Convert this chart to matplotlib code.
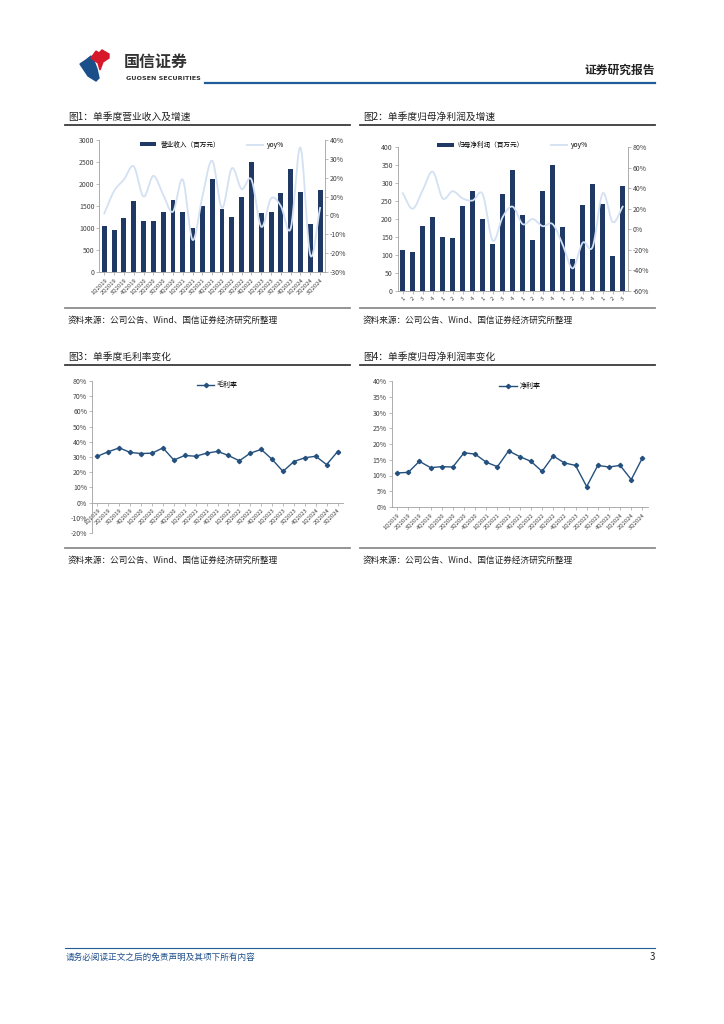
import numpy as np
import matplotlib
matplotlib.use("Agg")
import matplotlib.pyplot as plt
from matplotlib.patches import Polygon
from matplotlib.lines import Line2D

plt.rcParams['font.family'] = ['Noto Sans CJK SC', 'DejaVu Sans']
plt.rcParams['axes.unicode_minus'] = False

# ---- data ----
quarters = ["1Q2019", "2Q2019", "3Q2019", "4Q2019", "1Q2020", "2Q2020", "3Q2020", "4Q2020",
            "1Q2021", "2Q2021", "3Q2021", "4Q2021", "1Q2022", "2Q2022", "3Q2022", "4Q2022",
            "1Q2023", "2Q2023", "3Q2023", "4Q2023", "1Q2024", "2Q2024", "3Q2024"]
q_short = ["1", "2", "3", "4"] * 5 + ["1", "2", "3"]

revenue = [1050, 950, 1230, 1610, 1150, 1150, 1360, 1640, 1370, 1000, 1490, 2110,
           1430, 1250, 1700, 2500, 1340, 1360, 1790, 2330, 1820, 1080, 1860]
revenue_yoy = [1, 13, 19, 26, 10, 21, 11, 2, 19, -13, 10, 29,
               4, 25, 14, 19, -6, 9, 5, -7, 36, -21, 4]

profit = [115, 107, 180, 205, 149, 146, 235, 277, 199, 131, 269, 336,
          210, 143, 277, 350, 179, 89, 240, 296, 241, 98, 291]
profit_yoy = [35, 20, 38, 56, 30, 37, 30, 28, 34, -11, 12, 22,
              5, 10, 3, 5, -15, -38, -13, -17, 35, 7, 22]

gross_margin = [30.5, 33.5, 36.0, 33.0, 32.3, 32.5, 36.0, 28.0, 31.0, 30.5, 32.5, 33.7,
                31.0, 27.5, 32.5, 35.0, 28.5, 20.5, 27.0, 29.5, 30.5, 25.0, 33.5]
net_margin = [10.8, 11.0, 14.5, 12.5, 12.8, 12.7, 17.2, 16.8, 14.2, 12.8, 17.8, 16.0,
              14.5, 11.3, 16.2, 14.0, 13.2, 6.5, 13.2, 12.7, 13.2, 8.7, 15.6]

W, H = 724, 1024
NAVY = "#1F3864"
LIGHT = "#D3E1F2"
LINE = "#24507E"
GRAY = "#A0A0A0"
TXT = "#404040"


def rect(l, t, r, b):
    return [l / W, 1 - b / H, (r - l) / W, (b - t) / H]


def fx(x):
    return x / W


def fy(y):
    return 1 - y / H


def smooth(x, y, n=20):
    # catmull-rom style curve through the points (like excel smoothed line)
    x = np.asarray(x, float)
    y = np.asarray(y, float)
    px = np.concatenate([[2 * x[0] - x[1]], x, [2 * x[-1] - x[-2]]])
    py = np.concatenate([[2 * y[0] - y[1]], y, [2 * y[-1] - y[-2]]])
    xs, ys = [], []
    t = np.linspace(0, 1, n, endpoint=False)
    for i in range(1, len(px) - 2):
        for arr, out in ((px, xs), (py, ys)):
            p0, p1, p2, p3 = arr[i - 1], arr[i], arr[i + 1], arr[i + 2]
            out.extend(0.5 * (2 * p1 + (-p0 + p2) * t + (2 * p0 - 5 * p1 + 4 * p2 - p3) * t ** 2
                              + (-p0 + 3 * p1 - 3 * p2 + p3) * t ** 3))
    xs.append(x[-1])
    ys.append(y[-1])
    return np.array(xs), np.array(ys)


def style_axis(ax, fs=5):
    for s in ["top", "right"]:
        ax.spines[s].set_visible(False)
    for s in ["left", "bottom"]:
        ax.spines[s].set_color(GRAY)
        ax.spines[s].set_linewidth(0.6)
    ax.tick_params(axis="both", labelsize=fs, colors=TXT, length=2, width=0.5, pad=1.5)
    ax.tick_params(axis="both", color=GRAY)


fig = plt.figure(figsize=(W / 100, H / 100), dpi=100)

# ---- header ----
fig.patches.append(Polygon([(fx(a), fy(b)) for a, b in
                            [(80, 64), (86, 60), (91, 56), (94, 61), (97, 69), (99, 78),
                             (96, 81), (88, 76)]],
                           closed=True, color="#1B4F8A", transform=fig.transFigure))
fig.patches.append(Polygon([(fx(a), fy(b)) for a, b in
                            [(91, 58), (96, 51), (99, 53), (102, 50), (109, 54), (109, 58),
                             (103, 62), (100, 70), (98, 63)]],
                           closed=True, color="#D7182A", transform=fig.transFigure))
fig.text(fx(124), fy(62), "国信证券", fontsize=11.5, fontweight="bold", color="#333333",
         va="center", ha="left")
fig.text(fx(126), fy(78), "GUOSEN SECURITIES", fontsize=4.6, color="#333333", va="center",
         ha="left", family="DejaVu Sans", fontweight="bold")
fig.text(fx(655), fy(70), "证券研究报告", fontsize=8.5, fontweight="bold", color="#222222",
         ha="right", va="center")
fig.add_artist(Line2D([fx(205), fx(655)], [fy(83), fy(83)], color="#1F5C99", lw=1.6))

# ---- titles, rules, sources ----
for x0, x1, y_title, y_rule, y_bot, y_src, title in [
        (65, 350, 117, 125, 308, 320, "图1：单季度营业收入及增速"),
        (360, 655, 117, 125, 308, 320, "图2：单季度归母净利润及增速"),
        (65, 350, 357, 365, 548, 560, "图3：单季度毛利率变化"),
        (360, 655, 357, 365, 548, 560, "图4：单季度归母净利润率变化")]:
    fig.text(fx(x0 + 3), fy(y_title), title, fontsize=7, color="#222222", va="center")
    fig.add_artist(Line2D([fx(x0), fx(x1)], [fy(y_rule), fy(y_rule)], color="#3A3A3A", lw=1.3))
    fig.add_artist(Line2D([fx(x0), fx(x1)], [fy(y_bot), fy(y_bot)], color="#8C8C8C", lw=1.3))
    fig.text(fx(x0 + 3), fy(y_src), "资料来源：公司公告、Wind、国信证券经济研究所整理",
             fontsize=6.2, color="#222222", va="center")

# ---- footer ----
fig.add_artist(Line2D([fx(65), fx(655)], [fy(948), fy(948)], color="#1F5C99", lw=0.8))
fig.text(fx(66), fy(957), "请务必阅读正文之后的免责声明及其项下所有内容", fontsize=6.2,
         color="#1F4E8C", style="italic", va="center")
fig.text(fx(655), fy(957), "3", fontsize=7, color="#222222", va="center", ha="right")

x = np.arange(len(quarters))

# ---- chart 1 ----
ax1 = fig.add_axes(rect(99.4, 140, 325, 272))
ax1.bar(x, revenue, width=0.5, color=NAVY, label="营业收入（百万元）")
ax1.set_xlim(-0.5, len(x) - 0.5)
ax1.set_ylim(0, 3000)
ax1.set_yticks(np.arange(0, 3001, 500))
style_axis(ax1)
ax1.set_xticks(x)
ax1.set_xticklabels(quarters, rotation=45, ha="right", rotation_mode="anchor", fontsize=4.2)
ax1b = ax1.twinx()
sx, sy = smooth(x, revenue_yoy)
ax1b.plot(sx, sy, color=LIGHT, lw=1.3, label="yoy%")
ax1b.set_ylim(-30, 40)
ax1b.set_yticks(np.arange(-30, 41, 10))
ax1b.set_yticklabels([f"{v}%" for v in range(-30, 41, 10)])
for s in ["top", "left", "bottom"]:
    ax1b.spines[s].set_visible(False)
ax1b.spines["right"].set_color(GRAY)
ax1b.spines["right"].set_linewidth(0.6)
ax1b.tick_params(axis="y", labelsize=5, colors=TXT, length=2, width=0.5, pad=1.5)
ax1b.tick_params(axis="y", color=GRAY)
h1, l1 = ax1.get_legend_handles_labels()
h2, l2 = ax1b.get_legend_handles_labels()
ax1.legend(h1 + h2, l1 + l2, loc="upper center", bbox_to_anchor=(0.5, 1.04), ncol=2,
           frameon=False, fontsize=4.8, handlelength=2.5, handletextpad=0.6,
           columnspacing=4, handleheight=0.5)

# ---- chart 2 ----
ax2 = fig.add_axes(rect(397.7, 147, 627.7, 291))
ax2.bar(x, profit, width=0.5, color=NAVY, label="归母净利润（百万元）")
ax2.set_xlim(-0.5, len(x) - 0.5)
ax2.set_ylim(0, 400)
ax2.set_yticks(np.arange(0, 401, 50))
style_axis(ax2)
ax2.set_xticks(x)
ax2.set_xticklabels(q_short, rotation=45, ha="right", rotation_mode="anchor", fontsize=4.2)
ax2b = ax2.twinx()
sx, sy = smooth(x, profit_yoy)
ax2b.plot(sx, sy, color=LIGHT, lw=1.3, label="yoy%")
ax2b.set_ylim(-60, 80)
ax2b.set_yticks(np.arange(-60, 81, 20))
ax2b.set_yticklabels([f"{v}%" for v in range(-60, 81, 20)])
for s in ["top", "left", "bottom"]:
    ax2b.spines[s].set_visible(False)
ax2b.spines["right"].set_color(GRAY)
ax2b.spines["right"].set_linewidth(0.6)
ax2b.tick_params(axis="y", labelsize=5, colors=TXT, length=2, width=0.5, pad=1.5)
ax2b.tick_params(axis="y", color=GRAY)
h1, l1 = ax2.get_legend_handles_labels()
h2, l2 = ax2b.get_legend_handles_labels()
ax2.legend(h1 + h2, l1 + l2, loc="upper center", bbox_to_anchor=(0.5, 1.08), ncol=2,
           frameon=False, fontsize=4.8, handlelength=2.5, handletextpad=0.6,
           columnspacing=4, handleheight=0.5)

# ---- chart 3 ----
ax3 = fig.add_axes(rect(92, 381, 343, 533))
ax3.plot(x, gross_margin, color=LINE, lw=1.0, marker="D", markersize=2.2, label="毛利率")
ax3.set_xlim(-0.5, len(x) - 0.5)
ax3.set_ylim(-20, 80)
ax3.set_yticks(np.arange(-20, 81, 10))
ax3.set_yticklabels([f"{v}%" for v in range(-20, 81, 10)])
style_axis(ax3)
ax3.spines["bottom"].set_position(("data", 0))
ax3.set_xticks(x)
ax3.set_xticklabels(quarters, rotation=45, ha="right", rotation_mode="anchor", fontsize=4.2)
ax3.legend(loc="upper center", bbox_to_anchor=(0.5, 1.04), frameon=False, fontsize=5,
           handlelength=2.5, handletextpad=0.4)

# ---- chart 4 ----
ax4 = fig.add_axes(rect(391.5, 381, 648, 507))
ax4.plot(x, net_margin, color=LINE, lw=1.0, marker="D", markersize=2.2, label="净利率")
ax4.set_xlim(-0.5, len(x) - 0.5)
ax4.set_ylim(0, 40)
ax4.set_yticks(np.arange(0, 41, 5))
ax4.set_yticklabels([f"{v}%" for v in range(0, 41, 5)])
style_axis(ax4)
ax4.set_xticks(x)
ax4.set_xticklabels(quarters, rotation=45, ha="right", rotation_mode="anchor", fontsize=4.2)
ax4.legend(loc="upper center", bbox_to_anchor=(0.5, 1.04), frameon=False, fontsize=5,
           handlelength=2.5, handletextpad=0.4)

fig.savefig("out.png", dpi=100)
